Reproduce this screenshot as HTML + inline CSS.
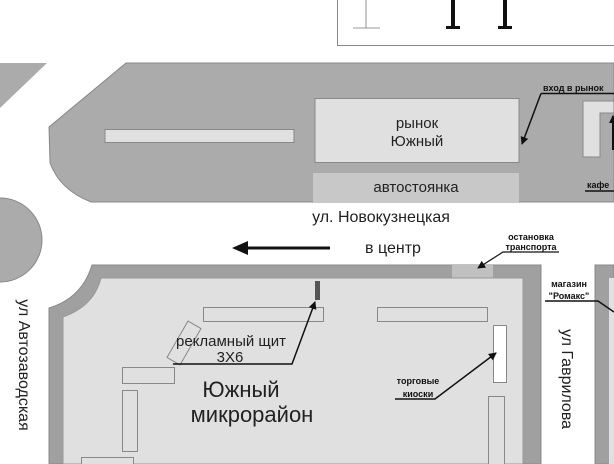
<!DOCTYPE html>
<html><head><meta charset="utf-8"><style>
html,body{margin:0;padding:0;background:#fff;}
svg{display:block;font-family:"Liberation Sans","Noto Sans CJK SC",sans-serif;}
</style></head><body>
<svg width="614" height="464" viewBox="0 0 614 464" xmlns="http://www.w3.org/2000/svg">
<defs>
<marker id="ah" markerWidth="8" markerHeight="8" refX="7" refY="4" orient="auto" markerUnits="userSpaceOnUse"><path d="M0,0 L8,4 L0,8 z" fill="#111"/></marker>
</defs>
<!-- top frame -->
<path d="M337.5,0 V45.5 H614" fill="none" stroke="#888" stroke-width="1"/>
<line x1="366" y1="0" x2="366" y2="28" stroke="#777" stroke-width="0.8"/>
<line x1="353" y1="28" x2="380" y2="28" stroke="#777" stroke-width="0.8"/>
<rect x="451" y="0" width="4" height="27" fill="#111"/>
<rect x="446" y="26" width="14" height="3" fill="#111"/>
<rect x="503" y="0" width="4" height="27" fill="#111"/>
<rect x="498" y="26" width="14" height="3" fill="#111"/>

<!-- top gray block -->
<path d="M0,63 H47 L0,108 Z" fill="#ababab"/>
<path d="M126,63 H614 V202 H91 Q60,190 50,163 L49,127 Z" fill="#ababab" stroke="#888" stroke-width="1"/>
<rect x="105" y="129.5" width="189" height="13" fill="#e0e0e0" stroke="#888"/>
<rect x="315" y="98.5" width="204" height="64" fill="#e0e0e0" stroke="#888"/>
<rect x="313" y="173" width="206" height="30" fill="#c8c8c8"/>
<text x="417" y="128" font-size="15" text-anchor="middle" fill="#222">рынок</text>
<text x="417" y="146" font-size="15" text-anchor="middle" fill="#222">Южный</text>
<text x="416" y="192" font-size="15" text-anchor="middle" fill="#222">автостоянка</text>
<!-- cafe -->
<path d="M583,101 H614 V113 H600 V157 H583 Z" fill="#e0e0e0" stroke="#888"/>
<line x1="613" y1="150" x2="613" y2="116" stroke="#111" stroke-width="2" marker-end="url(#ah)"/>
<text x="543" y="91" font-size="9" font-weight="bold" fill="#111">вход в рынок</text>
<line x1="541" y1="93.5" x2="614" y2="93.5" stroke="#111" stroke-width="1.5"/>
<line x1="541" y1="93.5" x2="522" y2="144" stroke="#111" stroke-width="1.5" marker-end="url(#ah)"/>
<text x="587" y="188" font-size="9" font-weight="bold" fill="#111">кафе</text>
<line x1="585" y1="191" x2="614" y2="191" stroke="#111" stroke-width="1.5"/>

<!-- circle -->
<circle cx="0" cy="240" r="42" fill="#ababab" stroke="#888"/>

<text x="381" y="222" font-size="16" text-anchor="middle" fill="#222">ул. Новокузнецкая</text>
<text x="393" y="253" font-size="16" text-anchor="middle" fill="#222">в центр</text>
<line x1="330" y1="248" x2="246" y2="248" stroke="#111" stroke-width="3"/>
<path d="M232,248 L248,241 L248,255 Z" fill="#111"/>

<!-- bottom block -->
<path d="M92,265 H541 V464 H49 V308 Q82,298 92,265 Z" fill="#a0a0a0" stroke="#888"/>
<rect x="452" y="265" width="41" height="13" fill="#c0c0c0"/>
<path d="M101,278 H523 V464 H63 V317 Q94,306 101,278 Z" fill="#e0e0e0" stroke="#999"/>
<rect x="595" y="265" width="19" height="199" fill="#a0a0a0" stroke="#888"/>
<rect x="609" y="278" width="5" height="186" fill="#e0e0e0"/>

<rect x="315" y="281" width="5" height="19" fill="#555"/>
<rect x="203.5" y="307.5" width="120" height="14" fill="#e0e0e0" stroke="#888"/>
<rect x="377.5" y="307.5" width="110" height="14" fill="#e0e0e0" stroke="#888"/>
<rect x="176.5" y="322" width="15" height="42" fill="#e0e0e0" stroke="#888" transform="rotate(30 184 343)"/>
<rect x="122.5" y="367.5" width="52" height="16" fill="#e0e0e0" stroke="#888"/>
<rect x="122.5" y="390.5" width="15" height="61" fill="#e0e0e0" stroke="#888"/>
<rect x="81.5" y="457.5" width="52" height="10" fill="#e0e0e0" stroke="#888"/>
<rect x="493.5" y="325.5" width="13" height="57" fill="#fff" stroke="#888"/>
<rect x="488.5" y="396.5" width="16" height="70" fill="#e0e0e0" stroke="#888"/>

<text x="231" y="346" font-size="15" text-anchor="middle" fill="#222">рекламный щит</text>
<text x="230" y="362" font-size="15" text-anchor="middle" fill="#222">3X6</text>
<polyline points="173,364 292,364 315,302" fill="none" stroke="#111" stroke-width="1.5" marker-end="url(#ah)"/>
<text x="241" y="397" font-size="22" text-anchor="middle" fill="#222">Южный</text>
<text x="252" y="422" font-size="22" text-anchor="middle" fill="#222">микрорайон</text>
<text x="418" y="384" font-size="9" font-weight="bold" text-anchor="middle" fill="#111">торговые</text>
<text x="418" y="397" font-size="9" font-weight="bold" text-anchor="middle" fill="#111">киоски</text>
<polyline points="395,399 435,399 496,353" fill="none" stroke="#111" stroke-width="1.5" marker-end="url(#ah)"/>

<text x="531" y="240" font-size="9" font-weight="bold" text-anchor="middle" fill="#111">остановка</text>
<text x="531" y="250" font-size="9" font-weight="bold" text-anchor="middle" fill="#111">транспорта</text>
<polyline points="559,252 503,252 478,268" fill="none" stroke="#111" stroke-width="1.2" marker-end="url(#ah)"/>
<text x="569" y="287" font-size="9" font-weight="bold" text-anchor="middle" fill="#111">магазин</text>
<text x="569" y="299" font-size="9" font-weight="bold" text-anchor="middle" fill="#111">"Ромакс"</text>
<polyline points="545,301 598,301 614,312" fill="none" stroke="#111" stroke-width="1.5"/>

<text transform="translate(19,365) rotate(90)" font-size="16" text-anchor="middle" fill="#222">ул Автозаводская</text>
<text transform="translate(562,379) rotate(90)" font-size="16" text-anchor="middle" fill="#222">ул Гаврилова</text>
</svg>
</body></html>
